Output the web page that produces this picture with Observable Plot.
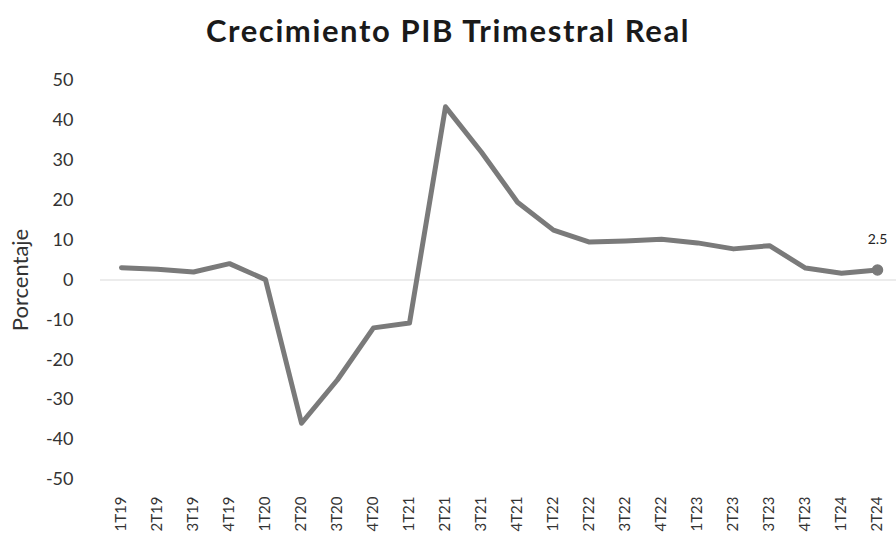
<!DOCTYPE html>
<html><head><meta charset="utf-8">
<script src="https://cdn.jsdelivr.net/npm/d3@7"></script>
<script src="https://cdn.jsdelivr.net/npm/@observablehq/plot@0.6"></script>
<style>
html,body{margin:0;padding:0;background:#fff;}
#title{box-sizing:border-box;height:60px;padding-top:15px;line-height:31px;text-align:center;font-family:Lato,"Open Sans",sans-serif;font-weight:bold;font-size:31px;letter-spacing:1.6px;color:#1a1a1a;}
#chart svg{display:block;}
</style></head><body>
<div id="title">Crecimiento PIB Trimestral Real</div>
<div id="chart"></div>
<script>
const quarters = ["1T19","2T19","3T19","4T19","1T20","2T20","3T20","4T20","1T21","2T21","3T21","4T21","1T22","2T22","3T22","4T22","1T23","2T23","3T23","4T23","1T24","2T24"];
const growth = [3.1, 2.7, 2.0, 4.1, 0.1, -35.9, -25.0, -12.0, -10.8, 43.4, 32.0, 19.5, 12.5, 9.5, 9.8, 10.2, 9.3, 7.8, 8.6, 3.0, 1.7, 2.5];
const yTicks = [50, 40, 30, 20, 10, 0, -10, -20, -30, -40, -50];
const yLabel = "Porcentaje";
const lastLabel = "2.5";

const data = quarters.map((q, i) => ({q, v: growth[i]}));
const last = [data[data.length - 1]];
const gray = "#7a7a7a";
const font = "Lato, 'Open Sans', sans-serif";

const chart = Plot.plot({
  width: 896,
  height: 484,
  marginLeft: 100,
  marginRight: 0,
  marginTop: 20,
  marginBottom: 65,
  style: {fontFamily: font, fontSize: "16px", color: "#333", background: "#fff"},
  x: {type: "point", domain: quarters, range: [116, 882], padding: 0, label: null},
  y: {domain: [-50, 50], label: null},
  marks: [
    Plot.ruleY([0], {stroke: "#d9d9d9", strokeWidth: 1}),
    Plot.axisY({ticks: yTicks, tickSize: 0, tickPadding: 27, tickFormat: d => String(d), fontSize: 18, fill: "#333", label: null}),
    Plot.axisX({tickSize: 0, tickPadding: 17, tickRotate: -90, fontSize: 15, fill: "#333", label: null, style: {letterSpacing: "0.5px"}}),
    Plot.text([yLabel], {frameAnchor: "left", textAnchor: "middle", rotate: -90, dx: -80, fontSize: 22, fill: "#333", style: {letterSpacing: "1.5px"}}),
    Plot.line(data, {x: "q", y: "v", stroke: gray, strokeWidth: 5, strokeLinejoin: "round", strokeLinecap: "round"}),
    Plot.dot(last, {x: "q", y: "v", r: 5, fill: gray, stroke: gray}),
    Plot.text(last, {x: "q", y: "v", text: () => lastLabel, dy: -31, fontSize: 14, fill: "#222"})
  ]
});
document.getElementById("chart").append(chart);
</script>
</body></html>
